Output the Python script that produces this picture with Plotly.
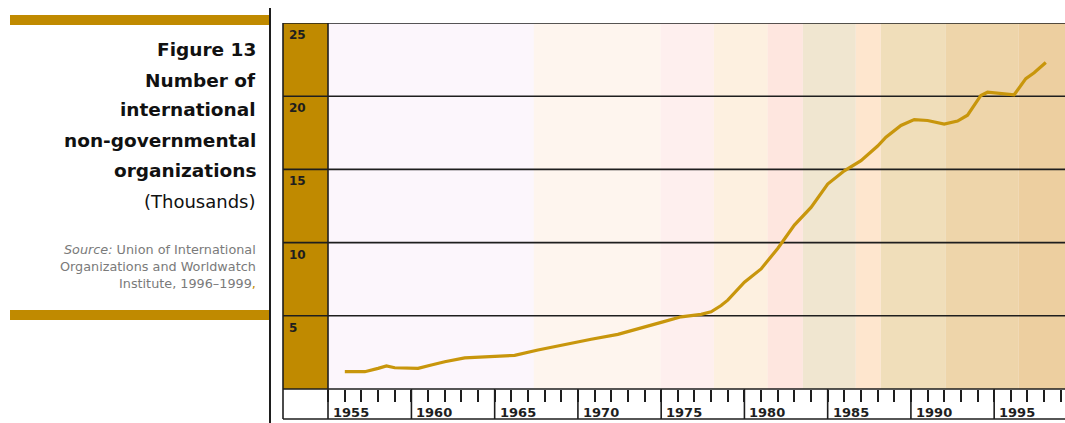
import plotly.graph_objects as go

# Number of international non-governmental organizations (thousands)
years = [1955, 1956.2, 1957, 1957.5, 1958, 1959.4, 1960.2, 1961, 1962.2, 1963.6,
         1965.2, 1966.6, 1968.2, 1969.8, 1971.4, 1973, 1974, 1975.2, 1976.4, 1977,
         1977.6, 1978, 1979, 1980, 1981, 1982, 1983, 1984, 1985, 1986,
         1987, 1987.5, 1988.4, 1989.2, 1990, 1991, 1991.8, 1992.4, 1993.2, 1993.6,
         1995.2, 1995.9, 1996.4, 1997.1]
ngos = [1.18, 1.18, 1.41, 1.57, 1.45, 1.41, 1.64, 1.86, 2.13, 2.2,
        2.3, 2.66, 3.05, 3.4, 3.73, 4.2, 4.55, 4.93, 5.1, 5.27,
        5.7, 6.07, 7.3, 8.2, 9.6, 11.2, 12.4, 14.0, 14.9, 15.6,
        16.6, 17.2, 18.0, 18.4, 18.34, 18.1, 18.3, 18.7, 20.05, 20.27,
        20.1, 21.2, 21.6, 22.3]

y_ticks = [5, 10, 15, 20, 25]
year_labels = [1955, 1960, 1965, 1970, 1975, 1980, 1985, 1990, 1995]

# shaded period bands
band_edges = [1953.99, 1966.35, 1973.98, 1977.16, 1980.41, 1982.51, 1985.69,
              1987.19, 1991.10, 1995.48, 1999.0]
band_colors = ["#FCF6FC", "#FEF5EE", "#FEEFEE", "#FDF0E0", "#FEE6DF",
               "#F0E6D0", "#FEE6CE", "#F0DEBA", "#EED5AA", "#EDCFA0"]

W, H = 1065, 423
GOLD = "#C08A00"
LINE = "#C8960C"
DARK = "#1E1E1E"
PX_PER_YEAR = 16.65
X_RANGE = [1953.99, 1953.99 + (W - 328) / PX_PER_YEAR]


def px_x(p):
    return p / W


def px_y(p):
    return (H - p) / H


fig = go.Figure()
fig.add_trace(go.Scatter(x=years, y=ngos, mode="lines",
                         line=dict(color=LINE, width=3.2), hoverinfo="skip"))

shapes = []
# background bands
for x0, x1, c in zip(band_edges[:-1], band_edges[1:], band_colors):
    shapes.append(dict(type="rect", xref="x", yref="y", x0=x0, x1=x1, y0=0, y1=25,
                       fillcolor=c, line=dict(width=0), layer="below"))
# horizontal rules across the plot
for v in y_ticks:
    shapes.append(dict(type="line", xref="x", yref="y", x0=X_RANGE[0], x1=X_RANGE[1],
                       y0=v, y1=v, line=dict(color=DARK, width=1.6), layer="below"))
# gold value column with its rules
shapes.append(dict(type="rect", xref="paper", yref="y", x0=px_x(283), x1=px_x(328),
                   y0=0, y1=25, fillcolor=GOLD, line=dict(width=0), layer="below"))
for v in y_ticks:
    shapes.append(dict(type="line", xref="paper", yref="y", x0=px_x(283), x1=px_x(328),
                       y0=v, y1=v, line=dict(color=DARK, width=1.6), layer="below"))
# axis frame
frame = [
    (283, 389, 1065, 389),
    (283, 419, 1065, 419),
    (283, 23, 283, 419),
    (328, 23, 328, 419),
]
for a, b, c, d in frame:
    shapes.append(dict(type="line", xref="paper", yref="paper",
                       x0=px_x(a), y0=px_y(b), x1=px_x(c), y1=px_y(d),
                       line=dict(color=DARK, width=1.6)))
# group separators in the year strip
for yr in year_labels[1:]:
    shapes.append(dict(type="line", xref="x", yref="paper", x0=yr - 1, x1=yr - 1,
                       y0=px_y(389), y1=px_y(419), line=dict(color=DARK, width=1.6)))

# left caption panel
shapes.append(dict(type="rect", xref="paper", yref="paper", x0=px_x(10), x1=px_x(270),
                   y0=px_y(25), y1=px_y(15), fillcolor=GOLD, line=dict(width=0)))
shapes.append(dict(type="rect", xref="paper", yref="paper", x0=px_x(10), x1=px_x(270),
                   y0=px_y(320), y1=px_y(310), fillcolor=GOLD, line=dict(width=0)))
shapes.append(dict(type="line", xref="paper", yref="paper", x0=px_x(270), x1=px_x(270),
                   y0=px_y(8), y1=px_y(423), line=dict(color=DARK, width=2)))

annotations = []
for v in y_ticks:
    annotations.append(dict(text=f"<b>{v}</b>", xref="paper", yref="y", x=px_x(287), y=v,
                            xanchor="left", yanchor="top", yshift=-3, showarrow=False,
                            font=dict(family="DejaVu Sans", size=12, color=DARK)))
for yr in year_labels:
    annotations.append(dict(text=f"<b>{yr}</b>", xref="x", yref="paper", x=yr - 1,
                            y=px_y(412), xanchor="left", yanchor="middle", xshift=3,
                            showarrow=False,
                            font=dict(family="DejaVu Sans", size=13, color=DARK)))

title_lines = [("Figure 13", 50), ("Number of", 80), ("international", 109),
               ("non-governmental", 140), ("organizations", 170)]
for t, yc in title_lines:
    annotations.append(dict(text=f"<b>{t}</b>", xref="paper", yref="paper",
                            x=px_x(258), y=px_y(yc), xanchor="right", yanchor="middle",
                            showarrow=False,
                            font=dict(family="DejaVu Sans", size=18.5, color="#111111")))
annotations.append(dict(text="(Thousands)", xref="paper", yref="paper",
                        x=px_x(258), y=px_y(201), xanchor="right", yanchor="middle",
                        showarrow=False,
                        font=dict(family="DejaVu Sans", size=18, color="#111111")))
source_lines = [("<i>Source:</i> Union of International", 249),
                ("Organizations and Worldwatch", 266),
                ("Institute, 1996–1999<span style='color:#C08A00'>,</span>", 283)]
for t, yc in source_lines:
    annotations.append(dict(text=t, xref="paper", yref="paper",
                            x=px_x(258), y=px_y(yc), xanchor="right", yanchor="middle",
                            showarrow=False,
                            font=dict(family="DejaVu Sans", size=12.8, color="#7A7A7A")))

fig.update_layout(
    width=W, height=H,
    margin=dict(l=0, r=0, t=0, b=0),
    paper_bgcolor="white",
    plot_bgcolor="#FCF6FC",
    showlegend=False,
    shapes=shapes,
    annotations=annotations,
    xaxis=dict(domain=[px_x(328), 1], range=X_RANGE,
               showgrid=False, zeroline=False, showline=False,
               tickmode="linear", tick0=1955, dtick=1, ticks="outside",
               ticklen=12, tickwidth=1.6, tickcolor=DARK, showticklabels=False),
    yaxis=dict(domain=[px_y(389), px_y(23)], range=[0, 25],
               showgrid=False, zeroline=False, showline=False,
               showticklabels=False, ticks=""),
)

fig.write_html("out.html")
